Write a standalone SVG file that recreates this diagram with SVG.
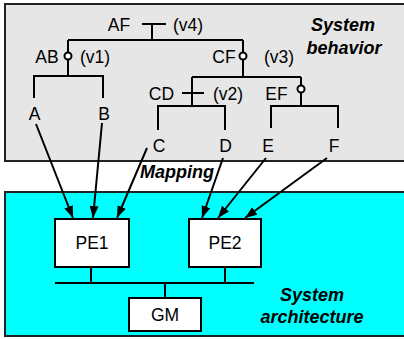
<svg xmlns="http://www.w3.org/2000/svg" width="404" height="339" viewBox="0 0 404 339">
<defs>
<style>
text{font-family:"Liberation Sans",Arial,Helvetica,sans-serif;fill:#000}
.t{font-size:17.5px;text-anchor:middle}
.lbl{font-size:18px;font-weight:bold;font-style:italic;text-anchor:middle}
.ln{stroke:#000;stroke-width:2;fill:none}
.arr{stroke:#000;stroke-width:2;fill:none;marker-end:url(#ah)}
.box{fill:#fff;stroke:#000;stroke-width:2}
.op{fill:#fff;stroke:#000;stroke-width:2}
</style>
<marker id="ah" markerUnits="userSpaceOnUse" markerWidth="13" markerHeight="10" refX="12" refY="4.5" orient="auto">
<path d="M0,0 L12,4.5 L0,9 z" fill="#000"/>
</marker>
</defs>
<g id="regions">
<rect x="5" y="4" width="402" height="157" fill="#e6e6e6" stroke="#222" stroke-width="2"/>
<rect x="5" y="192" width="402" height="144" fill="#00ffff" stroke="#222" stroke-width="2"/>
<text class="lbl" x="343" y="31">System</text>
<text class="lbl" x="344" y="54">behavior</text>
<text class="lbl" x="312" y="301">System</text>
<text class="lbl" x="312" y="323">architecture</text>
<text class="lbl" x="140" y="178" text-anchor="start" style="text-anchor:start">Mapping</text>
</g>
<g id="connectors">
<!-- top level AF -->
<path class="ln" d="M68,40 H243"/>
<path class="ln" d="M142,24 H166 M152,24 V41"/>
<!-- AB -->
<path class="ln" d="M68,40 V76 M34,98 V76 H103 V98"/>
<!-- CF -->
<path class="ln" d="M243,40 V77 M192,77 H301"/>
<!-- CD -->
<path class="ln" d="M192,77 V106 M182,93 H204 M158,130 V106 H225 V130"/>
<!-- EF -->
<path class="ln" d="M301,77 V106 M271,128 V106 H338 V128"/>
<!-- mapping arrows -->
<path class="arr" d="M36,124 L73,218"/>
<path class="arr" d="M102,123 L93,218"/>
<path class="arr" d="M147,148 L117,218"/>
<path class="arr" d="M223,158 L202,218"/>
<path class="arr" d="M266,158 L218,218"/>
<path class="arr" d="M327,158 L245,218"/>
<!-- bus -->
<path class="ln" d="M55,283 H254 M91,267 V283 M225,267 V283 M165,283 V298"/>
</g>
<g id="AF"><text class="t" x="119" y="31">AF</text><text class="t" x="188" y="31">(v4)</text></g>
<g id="AB"><circle class="op" cx="68" cy="56" r="3.5"/><text class="t" x="47" y="63">AB</text><text class="t" x="95" y="63">(v1)</text></g>
<g id="CF"><circle class="op" cx="243" cy="56" r="3.5"/><text class="t" x="224" y="63">CF</text><text class="t" x="279" y="63">(v3)</text></g>
<g id="CD"><text class="t" x="161.5" y="100">CD</text><text class="t" x="228" y="100">(v2)</text></g>
<g id="EF"><circle class="op" cx="301" cy="89" r="3.5"/><text class="t" x="276.5" y="100">EF</text></g>
<g id="A"><text class="t" x="34.5" y="120">A</text></g>
<g id="B"><text class="t" x="104" y="120">B</text></g>
<g id="C"><text class="t" x="159" y="152">C</text></g>
<g id="D"><text class="t" x="225.5" y="152">D</text></g>
<g id="E"><text class="t" x="268" y="152">E</text></g>
<g id="F"><text class="t" x="334" y="152">F</text></g>
<g id="PE1"><rect class="box" x="55" y="219" width="74" height="48"/><text class="t" x="92" y="249">PE1</text></g>
<g id="PE2"><rect class="box" x="189" y="219" width="72" height="48"/><text class="t" x="225" y="249">PE2</text></g>
<g id="GM"><rect class="box" x="129" y="298" width="72" height="33"/><text class="t" x="165" y="321">GM</text></g>
</svg>
